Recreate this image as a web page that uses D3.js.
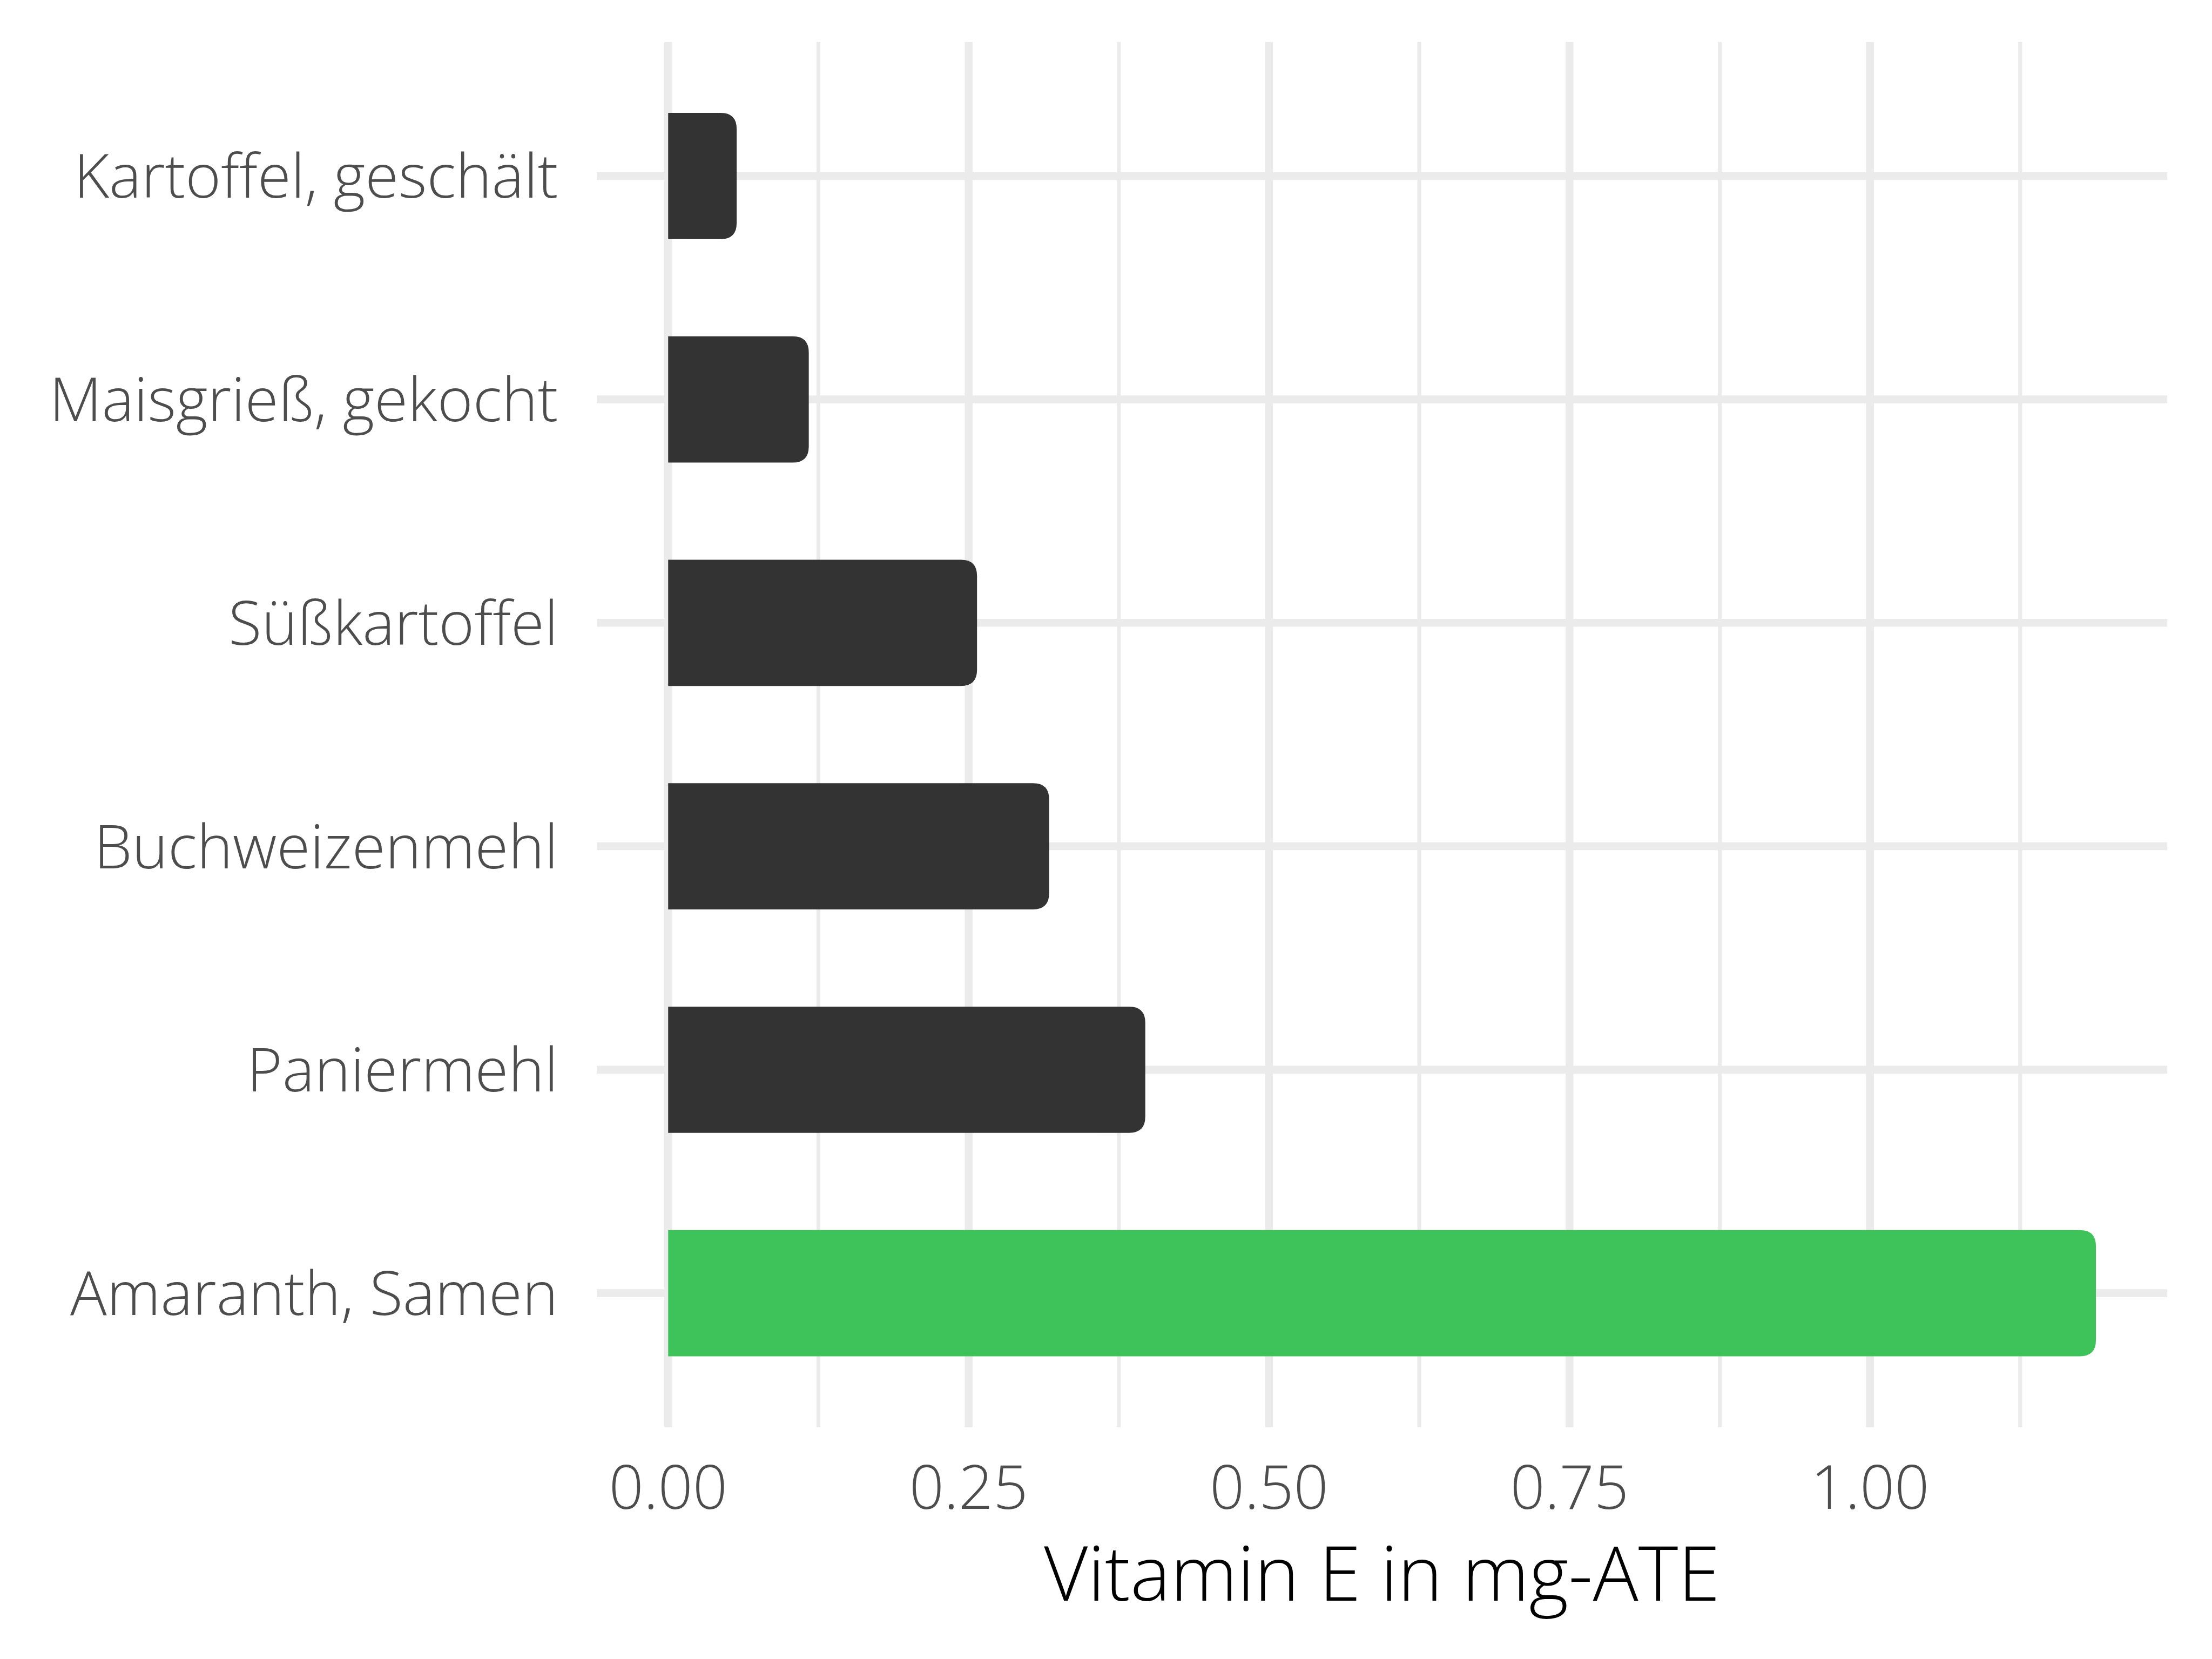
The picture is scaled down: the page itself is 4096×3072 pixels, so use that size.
<!DOCTYPE html>
<html>
<head>
<meta charset="utf-8">
<script src="https://cdn.jsdelivr.net/npm/d3@7"></script>
<style>
  html, body { margin: 0; padding: 0; background: #ffffff; }
  svg { display: block; }
  text { font-family: "Open Sans", sans-serif; font-weight: 300; font-stretch: 100%; }
</style>
</head>
<body>
<script>
// ---- data ----
const categories = ["Kartoffel, geschält", "Maisgrieß, gekocht", "Süßkartoffel", "Buchweizenmehl", "Paniermehl", "Amaranth, Samen"];
const values = [0.057, 0.117, 0.257, 0.317, 0.397, 1.188];
const highlight = [false, false, false, false, false, true];
const majorTicks = [0, 0.25, 0.5, 0.75, 1.0];
const minorTicks = [0.125, 0.375, 0.625, 0.875, 1.125];
const tickLabels = ["0.00", "0.25", "0.50", "0.75", "1.00"];
const axisTitle = "Vitamin E in mg-ATE";

// ---- layout (output pixels) ----
const W = 4096, H = 3072;
const S = 4096 / 4800;
const plot = { left: 1295 * S, right: 4703 * S, top: 91 * S, bottom: 3097 * S };
const maxV = d3.max(values);
const pad = maxV * 0.05;

const svg = d3.select("body").append("svg").attr("width", W).attr("height", H);
svg.append("rect").attr("width", W).attr("height", H).attr("fill", "#ffffff");

const x = d3.scaleLinear().domain([0 - pad, maxV + pad]).range([plot.left, plot.right]);
const y = d3.scalePoint().domain(categories).range([plot.top, plot.bottom]).padding(0.6);
const barH = y.step() * 0.565;

const grid = svg.append("g");
grid.selectAll(".minor").data(minorTicks).join("line")
  .attr("x1", d => x(d)).attr("x2", d => x(d))
  .attr("y1", plot.top).attr("y2", plot.bottom)
  .attr("stroke", "#EBEBEB").attr("stroke-width", 8.5 * S);
grid.selectAll(".major").data(majorTicks).join("line")
  .attr("x1", d => x(d)).attr("x2", d => x(d))
  .attr("y1", plot.top).attr("y2", plot.bottom)
  .attr("stroke", "#EBEBEB").attr("stroke-width", 17 * S);
grid.selectAll(".hmaj").data(categories).join("line")
  .attr("x1", plot.left).attr("x2", plot.right)
  .attr("y1", d => y(d)).attr("y2", d => y(d))
  .attr("stroke", "#EBEBEB").attr("stroke-width", 17 * S);

const r = 35 * S;
function barPath(x0, x1, yc, h) {
  const t = yc - h / 2, b = yc + h / 2;
  const rr = Math.min(r, (x1 - x0) / 2, h / 2);
  return `M${x0},${t}H${x1 - rr}Q${x1},${t} ${x1},${t + rr}V${b - rr}Q${x1},${b} ${x1 - rr},${b}H${x0}Z`;
}
svg.append("g").selectAll("path").data(categories).join("path")
  .attr("d", (c, i) => barPath(x(0), x(values[i]), y(c), barH))
  .attr("fill", (c, i) => highlight[i] ? "#3DC35A" : "#333333");

const fs = 132 * S;
svg.append("g").selectAll("text").data(categories).join("text")
  .attr("x", 1211 * S)
  .attr("y", d => y(d) + 0.36 * fs)
  .attr("text-anchor", "end")
  .attr("font-size", fs)
  .attr("fill", "#4D4D4D")
  .text(d => d);

svg.append("g").selectAll("text").data(majorTicks).join("text")
  .attr("x", d => x(d))
  .attr("y", 3274 * S)
  .attr("text-anchor", "middle")
  .attr("font-size", fs)
  .attr("fill", "#4D4D4D")
  .text((d, i) => tickLabels[i]);

svg.append("text")
  .attr("x", (plot.left + plot.right) / 2)
  .attr("y", 3473 * S)
  .attr("text-anchor", "middle")
  .attr("font-size", 164.5 * S)
  .attr("fill", "#000000")
  .text(axisTitle);
</script>
</body>
</html>
